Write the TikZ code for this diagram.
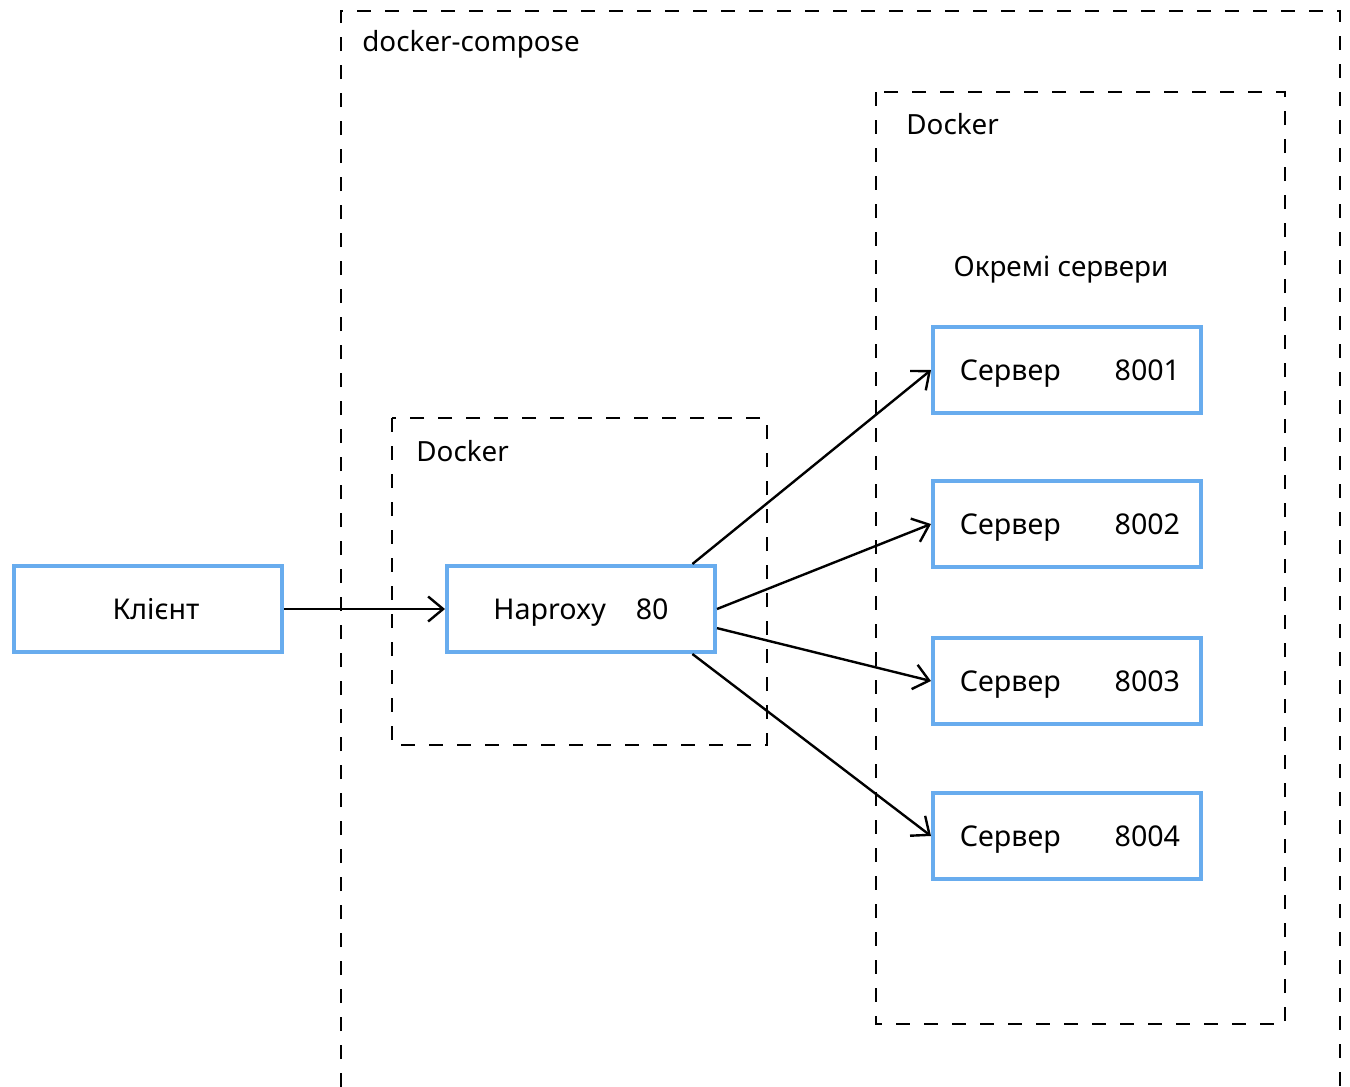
\documentclass[tikz,border=0pt]{standalone}
\usepackage{fontspec}
\setmainfont{Noto Sans}
\usetikzlibrary{arrows.meta}
\definecolor{boxBlue}{RGB}{104,172,238}
\tikzstyle{boxStyle}=[shape = rectangle, draw = boxBlue, line width = 2pt, minimum width = 134pt, minimum height = 43pt, inner sep = 0pt, text height = 10pt, text depth = 0pt, font = \fontsize{14.3}{17}\selectfont]
\tikzstyle{groupStyle}=[draw, line width = 0.7pt, dash pattern = on 7pt off 7pt]

\begin{document}
\begin{tikzpicture}[x = 0.5pt, y = -0.5pt]
\tikzstyle{labelStyle}=[anchor = base west, inner sep = 0pt, font = \fontsize{13.9}{16}\selectfont]
\tikzstyle{arrowStyle}=[draw, line width = 1.2pt, -{Straight Barb[length = 7.5pt, width = 12.5pt]}]
\useasboundingbox (0,0) rectangle (1350,1087);
%\draw[help lines] (0,0) grid[step = 50] (1350,1087);
\draw[groupStyle] (341,1087) -- (341,11) -- (1340,11) -- (1340,1087);
\draw[groupStyle] (392,418) rectangle (767,745);
\draw[groupStyle] (876,92) rectangle (1285,1024);
\node[labelStyle] (lCompose) at (362,51) {docker-compose};
\node[labelStyle] (lDockerA) at (416,461) {Docker};
\node[labelStyle] (lDockerB) at (906,134) {Docker};
\node[labelStyle, anchor = base] (lServers) at (1061,276) {Окремі сервери};
\node[boxStyle] (client) at (148,609) {\hspace*{8pt}Клієнт};
\node[boxStyle] (haproxy) at (581,609) {Haproxy\hspace{15pt}80\hspace{6pt}};
\node[boxStyle] (s1) at (1067,370) {\hspace*{3pt}Сервер\hspace{27pt}8001};
\node[boxStyle] (s2) at (1067,524) {\hspace*{3pt}Сервер\hspace{27pt}8002};
\node[boxStyle] (s3) at (1067,681) {\hspace*{3pt}Сервер\hspace{27pt}8003};
\node[boxStyle] (s4) at (1067,836) {\hspace*{3pt}Сервер\hspace{27pt}8004};
\draw[arrowStyle] (client) -- (haproxy);
\draw[arrowStyle] (haproxy.22) -- (s1.west);
\draw[arrowStyle] (haproxy.0) -- (s2.west);
\draw[arrowStyle] (haproxy.-8) -- (s3.west);
\draw[arrowStyle] (haproxy.-22) -- (s4.west);
\end{tikzpicture}
\end{document}
